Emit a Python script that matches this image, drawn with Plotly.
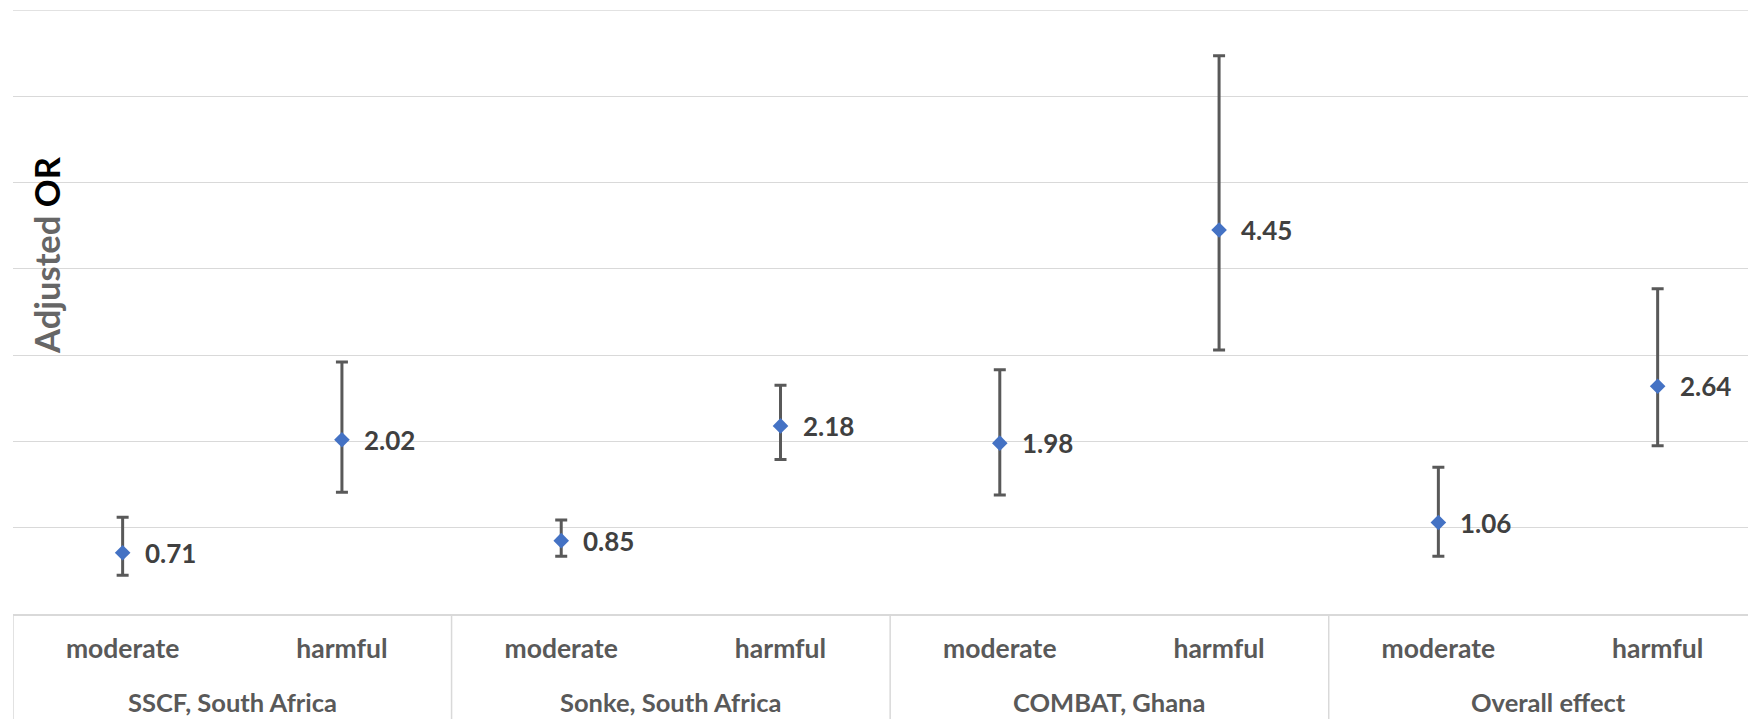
import plotly.graph_objects as go

# Studies (outer grouping) and drinking levels (inner categories)
studies = ["SSCF, South Africa", "Sonke, South Africa", "COMBAT, Ghana", "Overall effect"]
levels = ["moderate", "harmful"]

# Adjusted odds ratios with 95% confidence limits, in study/level order
odds_ratio = [0.71, 2.02, 0.85, 2.18, 1.98, 4.45, 1.06, 2.64]
ci_lower = [0.45, 1.41, 0.67, 1.79, 1.38, 3.06, 0.67, 1.95]
ci_upper = [1.12, 2.92, 1.09, 2.65, 2.83, 6.47, 1.70, 3.77]

# Value axis gridlines
y_ticks = [0, 1, 2, 3, 4, 5, 6, 7]

level_labels = [lv for _ in studies for lv in levels]
positions = list(range(len(level_labels)))

FONT = "Lato"
GRID = "#D9D9D9"
AXIS_TEXT = "#595959"
LABEL_TEXT = "#404040"

err_plus = [u - v for u, v in zip(ci_upper, odds_ratio)]
err_minus = [v - l for v, l in zip(odds_ratio, ci_lower)]

fig = go.Figure()
fig.add_trace(go.Scatter(
    x=positions,
    y=odds_ratio,
    mode="markers",
    marker=dict(symbol="diamond", size=12, color="#4472C4", line=dict(width=0)),
    error_y=dict(
        type="data", symmetric=False,
        array=err_plus, arrayminus=err_minus,
        color="#595959", thickness=3, width=6,
    ),
    showlegend=False,
    hoverinfo="skip",
))

annotations = []
# Value labels to the right of each point
for x, v in zip(positions, odds_ratio):
    annotations.append(dict(
        x=x, y=v, xref="x", yref="y",
        text=f"{v:.2f}", showarrow=False,
        xanchor="left", yanchor="middle", xshift=20,
        font=dict(family=FONT, size=26, color=LABEL_TEXT, weight="bold"),
    ))

# Study names centred under each pair of categories
n = len(levels)
for i, s in enumerate(studies):
    centre = sum(positions[i * n:(i + 1) * n]) / n
    annotations.append(dict(
        x=centre, y=-0.1457, xref="x", yref="paper",
        text=s, showarrow=False, xanchor="center", yanchor="middle",
        font=dict(family=FONT, size=25.5, color=AXIS_TEXT, weight="bold"),
    ))

# Axis title drawn inside the plotting area
annotations.append(dict(
    x=0.0194, y=0.594, xref="paper", yref="paper",
    text="<span style='color:#666666'>Adjusted</span> <span style='color:#000000'>OR</span>",
    showarrow=False, textangle=-90, xanchor="center", yanchor="middle",
    font=dict(family=FONT, size=34.5, color="#000000", weight="bold"),
))

shapes = []
# Gridline at the top of the value range
shapes.append(dict(
    type="line", xref="paper", yref="y",
    x0=0, x1=1, y0=y_ticks[-1], y1=y_ticks[-1],
    line=dict(color=GRID, width=1.3),
))
# Vertical separators between study groups in the category band
for i in range(len(studies) + 1):
    xb = i * n - 0.5
    shapes.append(dict(
        type="line", xref="x", yref="paper",
        x0=xb, x1=xb, y0=0, y1=-0.25,
        line=dict(color=GRID, width=1.5),
    ))

fig.update_layout(
    width=1748, height=719,
    margin=dict(l=13, r=0, t=10, b=105),
    paper_bgcolor="white", plot_bgcolor="white",
    annotations=annotations,
    shapes=shapes,
    xaxis=dict(
        range=[-0.5, 7.412],
        tickmode="array", tickvals=positions, ticktext=level_labels,
        ticks="", showgrid=False, zeroline=False,
        showline=True, linecolor=GRID, linewidth=1.5,
        ticklabelstandoff=10,
        tickfont=dict(family=FONT, size=26.5, color=AXIS_TEXT, weight="bold"),
    ),
    yaxis=dict(
        range=[0, 7],
        tickmode="array", tickvals=y_ticks,
        showticklabels=False, ticks="",
        showgrid=True, gridcolor=GRID, gridwidth=1.3,
        zeroline=False, showline=False,
    ),
)

fig.write_html("out.html")
